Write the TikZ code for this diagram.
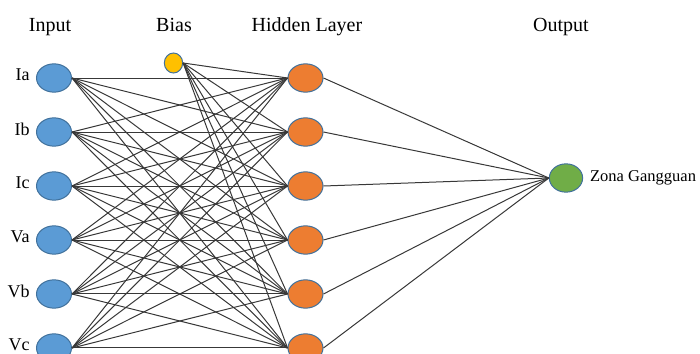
\documentclass[tikz,border=0pt]{standalone}
\usepackage{fontspec}
\setmainfont{Liberation Serif}
\usetikzlibrary{shapes.geometric,positioning}

\definecolor{inBlue}{RGB}{91,155,213}
\definecolor{rimBlue}{RGB}{65,113,156}
\definecolor{hidOrange}{RGB}{237,125,49}
\definecolor{biasYellow}{RGB}{255,192,0}
\definecolor{outGreen}{RGB}{112,173,71}

\tikzstyle{neuron} = [ellipse, inner sep=0pt, minimum width=21pt, minimum height=17pt, draw=rimBlue, line width=0.6pt]
\tikzstyle{inNode} = [neuron, fill=inBlue]
\tikzstyle{hidNode} = [neuron, fill=hidOrange]
\tikzstyle{outNode} = [neuron, fill=outGreen, minimum width=20pt]
\tikzstyle{biasNode} = [neuron, fill=biasYellow, minimum width=11pt, minimum height=12pt]
\tikzstyle{headText} = [inner sep=0pt, anchor=base, font=\fontsize{12}{14}\selectfont]
\tikzstyle{lblText} = [inner sep=0pt, font=\fontsize{10.8}{13}\selectfont]
\tikzstyle{link} = [line width=0.6pt, draw=black!78]

\begin{document}
\begin{tikzpicture}[x=0.6pt, y=-0.6pt, node distance=32.4pt]
  \useasboundingbox (0,0) rectangle (700,354);

  \node (hdInput)[headText] at (50,31) {Input};
  \node (hdBias)[headText] at (174,31) {Bias};
  \node (hdHidden)[headText] at (307,31) {Hidden Layer};
  \node (hdOutput)[headText] at (561,31) {Output};

  \node (Ia)[inNode] at (54,78) {};
  \node (Ib)[inNode, below of=Ia] {};
  \node (Ic)[inNode, below of=Ib] {};
  \node (Va)[inNode, below of=Ic] {};
  \node (Vb)[inNode, below of=Va] {};
  \node (Vc)[inNode, below of=Vb] {};

  \node (bias)[biasNode] at (173.5,63) {};

  \node (h1)[hidNode] at (305.5,78) {};
  \node (h2)[hidNode, below of=h1] {};
  \node (h3)[hidNode, below of=h2] {};
  \node (h4)[hidNode, below of=h3] {};
  \node (h5)[hidNode, below of=h4] {};
  \node (h6)[hidNode, below of=h5] {};

  \node (out)[outNode] at (566,178) {};

  \foreach \n in {Ia,Ib,Ic,Va,Vb,Vc}
    \node (lbl\n)[lblText, left=3.6pt of \n, yshift=1.8pt] {\n};
  \node (lblOut)[lblText, right=4pt of out, font=\fontsize{9.9}{12}\selectfont] {Zona Gangguan};

  \foreach \i in {Ia,Ib,Ic,Va,Vb,Vc}
    \foreach \j in {1,...,6}
      \draw [link] (\i.east) -- (h\j.west);
  \foreach \j in {1,...,6}
    \draw [link] (bias.east) -- (h\j.west);
  \foreach \j in {1,...,6}
    \draw [link] (h\j.east) -- (out.west);
\end{tikzpicture}
\end{document}
